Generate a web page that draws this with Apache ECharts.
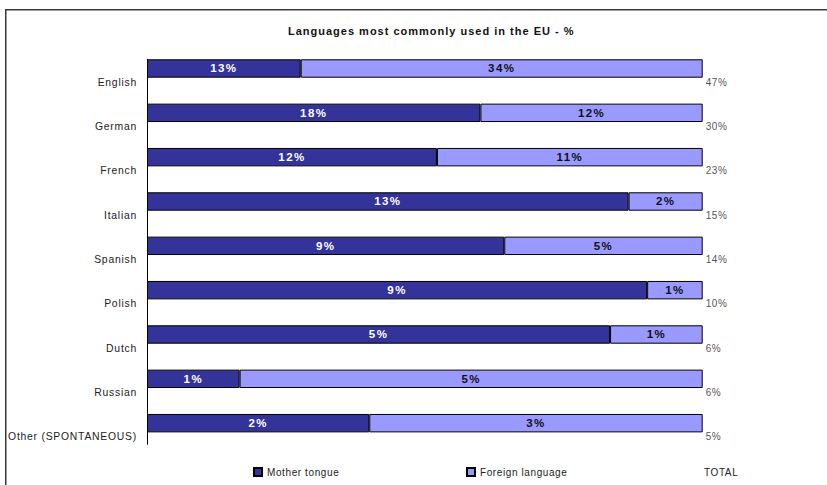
<!DOCTYPE html>
<html>
<head>
<meta charset="utf-8">
<script src="https://cdn.jsdelivr.net/npm/echarts@6/dist/echarts.min.js"></script>
<style>
  html, body { margin: 0; padding: 0; background: #fff; }
  #chart { width: 827px; height: 485px; }
  /* slightly tracked-out lettering, as in office-style charts */
  #chart svg text { letter-spacing: 0.6px; }
  #chart svg text[style*="10.4px"] { letter-spacing: 0.75px; }
  #chart svg text[style*="bold"] { letter-spacing: 1px; }
  #chart svg text[style*="11.5px"] { letter-spacing: 1.4px; }
</style>
</head>
<body>
<div id="chart"></div>
<script>
// Languages and their shares (% of respondents)
const categories = ['English', 'German', 'French', 'Italian', 'Spanish', 'Polish', 'Dutch', 'Russian', 'Other (SPONTANEOUS)'];
const motherTongue = [13, 18, 12, 13, 9, 9, 5, 1, 2];
const foreignLanguage = [34, 12, 11, 2, 5, 1, 1, 5, 3];
const totals = [47, 30, 23, 15, 14, 10, 6, 6, 5];

const FONT = '"Liberation Sans", Arial, Helvetica, sans-serif';
const DARK = '#333399';
const LIGHT = '#9999ff';

// each bar is stretched to 100%: a segment's length is its part of the language total
const share = (part, i) => part / (motherTongue[i] + foreignLanguage[i]) * 100;

const chart = echarts.init(document.getElementById('chart'), null, { renderer: 'svg' });

const legendBase = {
  top: 467,
  padding: 0,
  itemWidth: 8,
  itemHeight: 8,
  selectedMode: false,
  textStyle: { fontFamily: FONT, fontSize: 10, color: '#222' }
};

chart.setOption({
  animation: false,
  backgroundColor: '#fff',
  textStyle: { fontFamily: FONT },
  title: {
    text: 'Languages most commonly used in the EU - %',
    left: 288,
    top: 25,
    padding: 0,
    textStyle: { fontFamily: FONT, fontSize: 11, fontWeight: 'bold', color: '#111', lineHeight: 12 }
  },
  legend: [
    Object.assign({}, legendBase, { left: 253, data: [{ name: 'Mother tongue', icon: 'rect' }] }),
    Object.assign({}, legendBase, { left: 466, data: [{ name: 'Foreign language', icon: 'rect' }] }),
    Object.assign({}, legendBase, { left: 691, data: [{ name: 'TOTAL', icon: 'none' }] })
  ],
  grid: [
    { left: 147, right: 124.3, top: 46.33, height: 399, outerBoundsMode: 'none', containLabel: false },
    { left: 147, right: 124.3, top: 59.3, height: 385, outerBoundsMode: 'none', containLabel: false }
  ],
  xAxis: [
    { type: 'value', min: 0, max: 100, show: false, gridIndex: 0 },
    { type: 'value', min: 0, max: 100, show: false, gridIndex: 1 }
  ],
  yAxis: [
    {
      type: 'category',
      gridIndex: 0,
      data: categories,
      inverse: true,
      axisLine: { show: false },
      axisTick: { show: false },
      splitLine: { show: false },
      axisLabel: {
        interval: 0,
        margin: 10,
        fontFamily: FONT,
        fontSize: 10.4,
        color: '#222',
        // name sits below its bar, level with the total on the right
        verticalAlign: 'top',
        lineHeight: 27.6
      }
    },
    {
      type: 'value',
      gridIndex: 1,
      axisLine: { show: true, lineStyle: { color: '#000', width: 1 } },
      axisTick: { show: false },
      axisLabel: { show: false },
      splitLine: { show: false }
    }
  ],
  series: [
    {
      name: 'Mother tongue',
      type: 'bar',
      stack: 'lang',
      barWidth: 18.4,
      xAxisIndex: 0,
      yAxisIndex: 0,
      data: motherTongue.map((v, i) => share(v, i)),
      itemStyle: { color: DARK, borderColor: '#000', borderWidth: 1 },
      label: {
        show: true,
        position: 'inside',
        formatter: p => motherTongue[p.dataIndex] + '%',
        fontFamily: FONT,
        fontSize: 11.5,
        fontWeight: 'bold',
        color: '#fff'
      }
    },
    {
      name: 'Foreign language',
      type: 'bar',
      stack: 'lang',
      barWidth: 18.4,
      xAxisIndex: 0,
      yAxisIndex: 0,
      data: foreignLanguage.map((v, i) => share(v, i)),
      itemStyle: { color: LIGHT, borderColor: '#000', borderWidth: 1 },
      label: {
        show: true,
        position: 'inside',
        formatter: p => foreignLanguage[p.dataIndex] + '%',
        fontFamily: FONT,
        fontSize: 11.5,
        fontWeight: 'bold',
        color: '#111'
      }
    },
    {
      name: 'TOTAL',
      type: 'scatter',
      xAxisIndex: 0,
      yAxisIndex: 0,
      symbolSize: 0,
      itemStyle: { color: '#000' },
      data: totals.map((t, i) => [100, i]),
      label: {
        show: true,
        position: 'right',
        distance: 3,
        offset: [0, 13.8],
        formatter: p => totals[p.dataIndex] + '%',
        fontFamily: FONT,
        fontSize: 10,
        color: '#222'
      }
    }
  ],
  graphic: [
    {
      type: 'rect',
      silent: true,
      shape: { x: 5.75, y: 9.75, width: 900, height: 600 },
      style: { fill: 'none', stroke: '#3a3a3a', lineWidth: 1.5 }
    }
  ]
});
</script>
</body>
</html>
